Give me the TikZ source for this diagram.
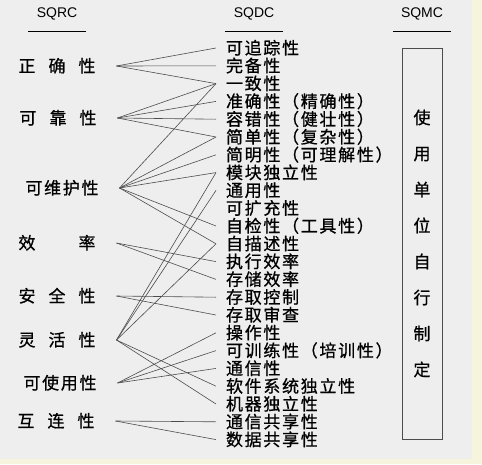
\documentclass[tikz,border=0pt]{standalone}
\usepackage{fontspec}
\setmainfont{Liberation Sans}
\newfontfamily\cjk[LetterSpace=10,FakeBold=0.8]{Noto Sans CJK SC}
\newcommand{\spread}[1]{\makebox[77pt][s]{#1}}
\definecolor{paper}{HTML}{EEEEEE}
\definecolor{rim}{HTML}{F6F4DC}

\begin{document}
\begin{tikzpicture}[x=1pt,y=-1pt,
    rc/.style={font=\cjk\fontsize{17}{18}\selectfont, inner xsep=0pt, outer xsep=21pt,
      text height=12.5pt, text depth=0pt},
    dc/.style={font=\cjk\fontsize{17}{18}\selectfont, anchor=west, inner xsep=0pt,
      outer xsep=10pt, text height=12.5pt, text depth=0pt},
    hd/.style={font=\fontsize{14}{16}\selectfont, minimum width=58pt, minimum height=34pt},
    link/.style={black!70, line width=0.6pt}]
    \useasboundingbox (0,0) rectangle (482,464);
    % screen background
    \fill[rim] (0,0) rectangle (482,464);
    \fill[paper] (0,0) rectangle (472,459);

    % column headers
    \node[hd] (hr) at (57,14) {SQRC};
    \node[hd] (hd) at (254,14) {SQDC};
    \node[hd] (hm) at (422,14) {SQMC};
    \foreach \h in {hr,hd,hm}
    \draw[line width=0.8pt] (\h.south west) -- (\h.south east);

    % quality requirement criteria
    \node[rc] (r1) at (57,66) {\spread{正 确 性}};
    \node[rc] (r2) at (58,118) {\spread{可 靠 性}};
    \node[rc] (r3) at (62,188) {可维护性};
    \node[rc] (r4) at (57,243) {\spread{效 率}};
    \node[rc] (r5) at (57,296) {\spread{安 全 性}};
    \node[rc] (r6) at (57,340) {\spread{灵 活 性}};
    \node[rc] (r7) at (60,383) {可使用性};
    \node[rc] (r8) at (56,421) {\spread{互 连 性}};

    % design criteria
    \foreach \t [count=\i] in {可追踪性,完备性,一致性,准确性（精确性）,容错性（健壮性）,
        简单性（复杂性）,简明性（可理解性）,模块独立性,通用性,可扩充性,自检性（工具性）,
        自描述性,执行效率,存储效率,存取控制,存取审查,操作性,可训练性（培训性）,通信性,
        软件系统独立性,机器独立性,通信共享性,数据共享性}
    \node[dc] (d\i) at (216,{48+(\i-1)*17.8}) {\t};

    % metric box
    \node[draw, black!70, line width=0.8pt, minimum width=40pt, minimum height=391pt,
      align=center, text=black, font=\cjk\fontsize{17}{36}\selectfont] (mc) at (422,243.5)
      {使\\用\\单\\位\\自\\行\\制\\定};

    % links
    \foreach \r/\dl in {r1/{1,2,3}, r2/{3,4,5,6}, r3/{3,6,7,8,11,12}, r4/{13,14},
        r5/{15,16}, r6/{8,9,12,20,21}, r7/{17,18,19}, r8/{22,23}}
    \foreach \d in \dl
    \draw[link] (\r.east) -- (d\d.west);
  \end{tikzpicture}
\end{document}
